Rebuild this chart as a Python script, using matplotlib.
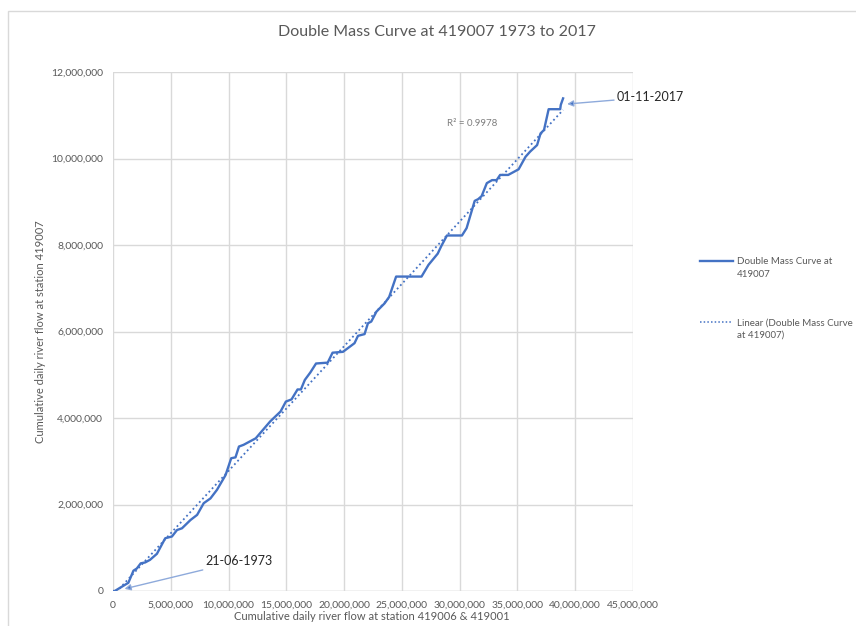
import matplotlib.pyplot as plt
import matplotlib.ticker as mticker
import numpy as np
from matplotlib.lines import Line2D
from matplotlib.patches import Rectangle

# cumulative flows, upstream stations (x) against station 419007 (y)
cum_upstream = [0, 150000, 1330000, 1770000, 2060000, 2400000, 2780000, 3200000,
                3800000, 4520000, 5100000, 5540000, 5970000, 6700000, 7280000,
                7850000, 8430000, 9000000, 9740000, 10230000, 10600000, 10900000,
                11300000, 12350000, 13600000, 14500000, 14960000, 15450000,
                15970000, 16260000, 16600000, 17070000, 17570000, 18580000,
                19000000, 19900000, 20900000, 21200000, 21770000, 22060000,
                22350000, 22800000, 23500000, 23900000, 24500000, 26700000,
                27300000, 28100000, 28400000, 28900000, 30200000, 30600000,
                31300000, 31600000, 31900000, 32350000, 32800000, 33200000,
                33500000, 34200000, 35100000, 35700000, 36100000, 36700000,
                37000000, 37300000, 37700000, 38700000, 38750000, 38950000]
cum_419007 = [0, 0, 190000, 470000, 520000, 640000, 660000, 720000,
              860000, 1220000, 1260000, 1410000, 1450000, 1640000, 1760000,
              2030000, 2140000, 2340000, 2680000, 3070000, 3090000, 3340000,
              3380000, 3530000, 3920000, 4150000, 4380000, 4430000,
              4660000, 4660000, 4880000, 5050000, 5260000, 5280000,
              5510000, 5530000, 5730000, 5900000, 5940000, 6190000,
              6230000, 6460000, 6650000, 6800000, 7270000, 7270000,
              7540000, 7800000, 7970000, 8220000, 8220000, 8390000,
              9020000, 9060000, 9130000, 9430000, 9500000, 9500000,
              9620000, 9620000, 9750000, 10040000, 10160000, 10310000,
              10580000, 10660000, 11140000, 11140000, 11240000, 11390000]

x_ticks = np.arange(0, 45000001, 5000000)
y_ticks = np.arange(0, 12000001, 2000000)

blue = '#4472c4'
grey = '#595959'
grid_c = '#d9d9d9'
plt.rcParams['font.family'] = ['Lato', 'DejaVu Sans']

fig = plt.figure(figsize=(8.56, 6.26), dpi=100, facecolor='white')
ax = fig.add_axes([113/856, 1 - 591/626, 520/856, 519/626])

# chart frame
fig.add_artist(Rectangle((8/856, -0.2), 1.2, 1 - 11/626 + 0.2,
                         transform=fig.transFigure, fill=False,
                         edgecolor=grid_c, linewidth=1))

x = np.array(cum_upstream, dtype=float)
y = np.array(cum_419007, dtype=float)
ax.plot(x, y, color=blue, linewidth=1.7, zorder=3)

# linear trend
k, b = np.polyfit(x, y, 1)
xt = np.array([0, x[-1]])
ax.plot(xt, k*xt + b, color=blue, linewidth=1.3, linestyle=(0, (1, 1.6)), zorder=2)
ax.text(28900000, 10750000, 'R² = 0.9978', fontsize=7, color='#7f7f7f')

ax.set_xlim(0, 45000000)
ax.set_ylim(0, 12000000)
ax.set_xticks(x_ticks)
ax.set_yticks(y_ticks)
fmt = mticker.FuncFormatter(lambda v, p: '{:,.0f}'.format(v))
ax.xaxis.set_major_formatter(fmt)
ax.yaxis.set_major_formatter(fmt)
ax.tick_params(length=0, labelsize=7.5, labelcolor=grey, pad=7)
ax.grid(True, color=grid_c, linewidth=1)
ax.set_axisbelow(True)
for s in ax.spines.values():
    s.set_visible(False)
ax.axhline(0, color=grid_c, linewidth=1, zorder=1)

fig.text(437/856, 1 - 32/626, 'Double Mass Curve at 419007 1973 to 2017',
         fontsize=11.5, color=grey, ha='center', va='center')
ax.set_ylabel('Cumulative daily river flow at station 419007', fontsize=8,
              color=grey, labelpad=4)
fig.text(372/856, 1 - 617/626,
         'Cumulative daily river flow at station 419006 & 419001',
         fontsize=8, color=grey, ha='center', va='center')

# date callouts
arrow = dict(arrowstyle='-|>', color='#8eaadb', lw=1, mutation_scale=9,
             shrinkA=0, shrinkB=0)
a1 = ax.annotate('21-06-1973', xy=(1000000, 50000), xytext=(8000000, 690000),
                 fontsize=9, color='#262626', va='center', arrowprops=arrow)
a2 = ax.annotate('01-11-2017', xy=(39300000, 11260000),
                 xytext=(43600000, 11420000), fontsize=9, color='#262626',
                 va='center', arrowprops=arrow, annotation_clip=False)
for a in (a1, a2):
    a.arrow_patch.set_facecolor(blue)

# legend drawn beside the plot
fig.add_artist(Line2D([700/856, 733/856], [1 - 261/626]*2, color=blue,
                      linewidth=1.7, transform=fig.transFigure))
fig.text(737/856, 1 - 268/626, 'Double Mass Curve at\n419007', fontsize=7,
         color=grey, va='center', linespacing=1.5)
fig.add_artist(Line2D([700/856, 733/856], [1 - 322/626]*2, color=blue,
                      linewidth=1.1, linestyle=(0, (1, 1.4)),
                      transform=fig.transFigure))
fig.text(737/856, 1 - 329/626, 'Linear (Double Mass Curve\nat 419007)',
         fontsize=7, color=grey, va='center', linespacing=1.5)

fig.savefig('out.png', dpi=100)
